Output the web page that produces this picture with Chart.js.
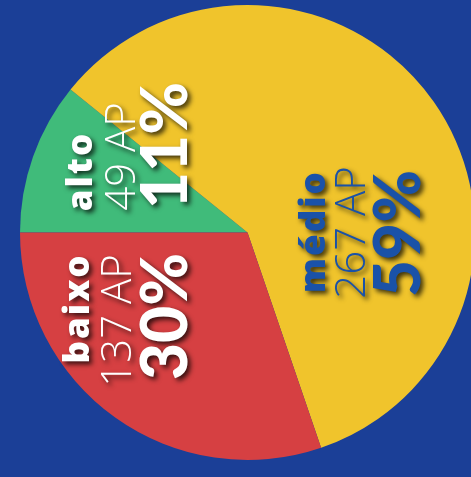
<!DOCTYPE html>
<html>
<head>
<meta charset="utf-8">
<script src="https://cdn.jsdelivr.net/npm/chart.js@4.4.1/dist/chart.umd.min.js"></script>
<style>
    html, body { margin: 0; padding: 0; background: #1b3f97; overflow: hidden; }
    #wrap { position: relative; width: 480px; height: 477px; }
</style>
</head>
<body>
<div id="wrap"><canvas id="pieChart"></canvas></div>
<script>
// categories and values (AP counts)
const categories = ['alto', 'médio', 'baixo'];
const counts = [49, 267, 137];
const unit = 'AP';

const sliceColors = ['#40bb7a', '#f0c42c', '#d64042'];
const textColors = ['#ffffff', '#1a52a8', '#ffffff'];

// label line offsets from pie center: [name, count, percent] -> [baseline x, center y]
const labelLayout = [
    [[-156, -61], [-113, -76], [-61, -87]],
    [[77, -1], [117, 0], [172, 1]],
    [[-159, 76], [-117, 88], [-61, 84]]
];

const total = counts.reduce((a, b) => a + b, 0);

// draws the rotated three-line labels
const rotatedLabels = {
    id: 'rotatedLabels',
    afterDatasetsDraw(chart) {
        const ctx = chart.ctx;
        const arcs = chart.getDatasetMeta(0).data;
        arcs.forEach((arc, i) => {
            const pct = Math.round(counts[i] / total * 100) + '%';
            const lines = [
                { text: categories[i], font: '800 35px "Open Sans"', spacing: '2px' },
                { text: counts[i] + ' ' + unit, font: '300 42px "Open Sans"', spacing: '0px' },
                { text: pct, font: '900 64px Lato', spacing: '0px' }
            ];
            lines.forEach((line, j) => {
                const pos = labelLayout[i][j];
                ctx.save();
                ctx.translate(arc.x + pos[0], arc.y + pos[1]);
                ctx.rotate(-Math.PI / 2);
                ctx.font = line.font;
                ctx.letterSpacing = line.spacing;
                ctx.textAlign = 'center';
                ctx.textBaseline = 'alphabetic';
                ctx.shadowColor = 'rgba(0,0,0,0.75)';
                ctx.shadowOffsetX = 3;
                ctx.shadowOffsetY = 3;
                ctx.shadowBlur = 5;
                ctx.fillStyle = textColors[i];
                ctx.fillText(line.text, 0, 0);
                ctx.restore();
            });
        });
    }
};

const ctx = document.getElementById('pieChart').getContext('2d');

const pieChart = new Chart(ctx, {
    type: 'pie',
    data: {
        labels: categories,
        datasets: [{
            data: counts,
            backgroundColor: sliceColors,
            borderWidth: 0
        }]
    },
    options: {
        responsive: true,
        maintainAspectRatio: false,
        animation: false,
        rotation: 270,
        layout: {
            padding: { left: 20, right: 5, top: 5, bottom: 17 }
        },
        plugins: {
            legend: { display: false },
            tooltip: { enabled: false }
        }
    },
    plugins: [rotatedLabels]
});
</script>
</body>
</html>
